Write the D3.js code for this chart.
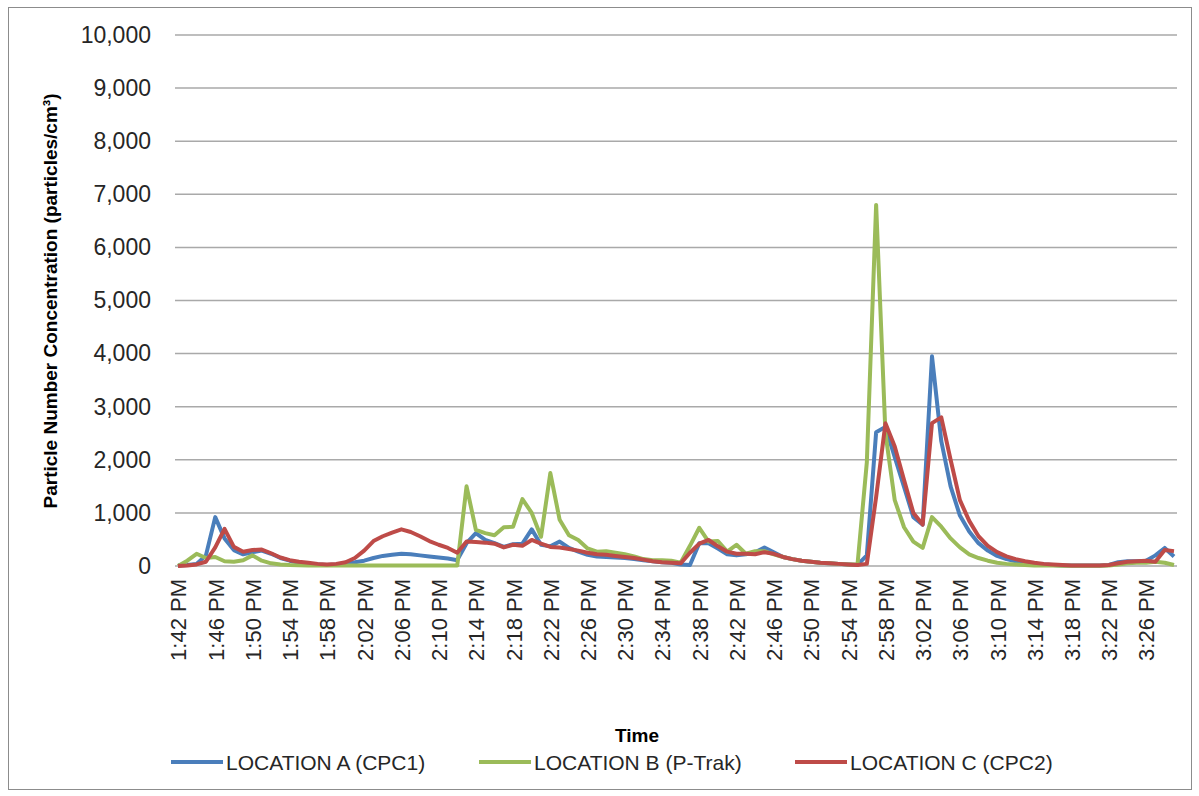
<!DOCTYPE html>
<html>
<head>
<meta charset="utf-8">
<script src="https://cdn.jsdelivr.net/npm/d3@7"></script>
<style>
  html, body { margin: 0; padding: 0; background: #fff; }
  svg { display: block; font-family: "Liberation Sans", Arial, sans-serif; }
</style>
</head>
<body>
<svg id="chart" width="1199" height="796"></svg>
<script>
// ---- data (one reading per minute, 1:42 PM to 3:29 PM) ----
const startTime = "13:42";
const endTime = "15:29";
const seriesNames = ["LOCATION A (CPC1)", "LOCATION B (P-Trak)", "LOCATION C (CPC2)"];
const seriesColors = ["#4A7EBB", "#9BBB59", "#BE4B48"];
const yTicks = [0, 1000, 2000, 3000, 4000, 5000, 6000, 7000, 8000, 9000, 10000];

const locationA = [
  10, 20, 40, 200, 920, 520, 300, 220, 260, 290,
  230, 150, 100, 60, 40, 30, 20, 30, 50, 70,
  100, 150, 190, 210, 230, 220, 200, 180, 160, 140,
  110, 430, 620, 490, 430, 360, 410, 420, 690, 400,
  370, 460, 340, 270, 210, 180, 170, 160, 150, 130,
  110, 90, 70, 60, 30, 20, 430, 430, 330, 220,
  200, 220, 260, 350, 260, 170, 130, 100, 80, 60,
  50, 40, 30, 20, 200, 2520, 2620, 2050, 1490, 920,
  780, 3950, 2350, 1500, 950, 650, 430, 290, 190, 130,
  90, 60, 40, 30, 20, 10, 10, 10, 10, 10,
  20, 70, 90, 90, 100, 200, 340, 180
];
const locationB = [
  0, 100, 230, 150, 170, 90, 80, 110, 200, 100,
  50, 30, 20, 15, 10, 10, 10, 10, 10, 10,
  10, 10, 10, 10, 10, 10, 10, 10, 10, 10,
  10, 1500, 680, 620, 580, 730, 740, 1260, 1000, 550,
  1750, 870, 580, 490, 330, 270, 280, 250, 220, 180,
  130, 110, 110, 100, 60, 380, 720, 460, 470, 270,
  400, 230, 280, 280, 220, 170, 130, 100, 80, 60,
  50, 40, 30, 30, 1950, 6800, 2500, 1240, 730, 460,
  340, 920, 740, 520, 350, 220, 150, 100, 60, 40,
  30, 20, 10, 10, 10, 5, 5, 5, 5, 5,
  10, 30, 50, 60, 60, 80, 60, 20
];
const locationC = [
  0, 10, 30, 80, 350, 700, 360, 270, 300, 310,
  240, 160, 110, 80, 60, 40, 30, 40, 70, 150,
  290, 470, 560, 630, 690, 640, 560, 470, 400, 340,
  250, 460, 450, 440, 420, 350, 400, 380, 490, 420,
  360, 350, 320, 290, 250, 220, 210, 190, 170, 150,
  120, 90, 70, 60, 50, 250, 420, 490, 370, 270,
  230, 230, 220, 260, 230, 170, 130, 100, 80, 60,
  50, 40, 30, 20, 40, 1300, 2690, 2250, 1620, 1000,
  780, 2690, 2800, 2000, 1240, 850, 560, 380, 260, 180,
  130, 90, 60, 40, 30, 20, 10, 10, 10, 10,
  20, 50, 80, 90, 100, 80, 300, 280
];
const seriesValues = [locationA, locationB, locationC];

// ---- layout ----
const svg = d3.select("#chart");
const parse = d3.timeParse("%H:%M");
const t0 = parse(startTime), t1 = parse(endTime);
const times = d3.timeMinute.range(t0, d3.timeMinute.offset(t1, 1));

const x = d3.scaleTime().domain([t0, t1]).range([178, 1174]);
const y = d3.scaleLinear().domain([0, 10000]).range([566, 35]);

// outer border
svg.append("rect").attr("x", 8.5).attr("y", 7.5).attr("width", 1183).attr("height", 782)
  .attr("fill", "none").attr("stroke", "#8c8c8c").attr("stroke-width", 1);

// gridlines
svg.append("g").selectAll("line").data(yTicks).join("line")
  .attr("x1", 175).attr("x2", 1177)
  .attr("y1", d => y(d)).attr("y2", d => y(d))
  .attr("stroke", "#a9a9a9").attr("stroke-width", 1.5);

// y axis labels
const yAxis = d3.axisLeft(y).tickValues(yTicks).tickFormat(d3.format(",")).tickSize(0).tickPadding(0);
const gy = svg.append("g").attr("transform", "translate(151,0)").call(yAxis);
gy.select(".domain").remove();
gy.selectAll("text").attr("font-size", 23).attr("fill", "#262626")
  .attr("font-family", "Liberation Sans, Arial, sans-serif");

// x axis labels
const xTickVals = d3.timeMinute.every(1).range(t0, d3.timeMinute.offset(t1, 1)).filter((d, i) => i % 4 === 0);
const xAxis = d3.axisBottom(x).tickValues(xTickVals).tickFormat(d3.timeFormat("%-I:%M %p")).tickSize(0).tickPadding(0);
const gx = svg.append("g").attr("transform", "translate(0,566)").call(xAxis);
gx.select(".domain").remove();
gx.selectAll("text")
  .attr("font-size", 22).attr("fill", "#262626")
  .attr("font-family", "Liberation Sans, Arial, sans-serif")
  .attr("text-anchor", "end")
  .attr("transform", "rotate(-90)")
  .attr("x", -13).attr("y", 0).attr("dy", "0.36em");

// lines
const line = d3.line().x((d, i) => x(times[i])).y(d => y(d));
svg.append("g").selectAll("path").data(seriesValues).join("path")
  .attr("d", d => line(d))
  .attr("fill", "none")
  .attr("stroke", (d, i) => seriesColors[i])
  .attr("stroke-width", 4)
  .attr("stroke-linejoin", "round");

// axis titles
svg.append("text")
  .attr("transform", "translate(57,301) rotate(-90)")
  .attr("text-anchor", "middle")
  .attr("font-size", 19).attr("font-weight", "bold").attr("fill", "#000")
  .text("Particle Number Concentration (particles/cm³)");

svg.append("text")
  .attr("x", 637).attr("y", 742)
  .attr("text-anchor", "middle")
  .attr("font-size", 19).attr("font-weight", "bold").attr("fill", "#000")
  .text("Time");

// legend
const legendX = [171, 479, 795];
const lg = svg.append("g").selectAll("g").data(seriesNames).join("g")
  .attr("transform", (d, i) => `translate(${legendX[i]},762)`);
lg.append("line").attr("x1", 0).attr("x2", 52).attr("y1", 0).attr("y2", 0)
  .attr("stroke", (d, i) => seriesColors[i]).attr("stroke-width", 4);
lg.append("text").attr("x", 55).attr("y", 0).attr("dy", "0.36em")
  .attr("font-size", 21).attr("fill", "#262626")
  .text(d => d);
</script>
</body>
</html>
